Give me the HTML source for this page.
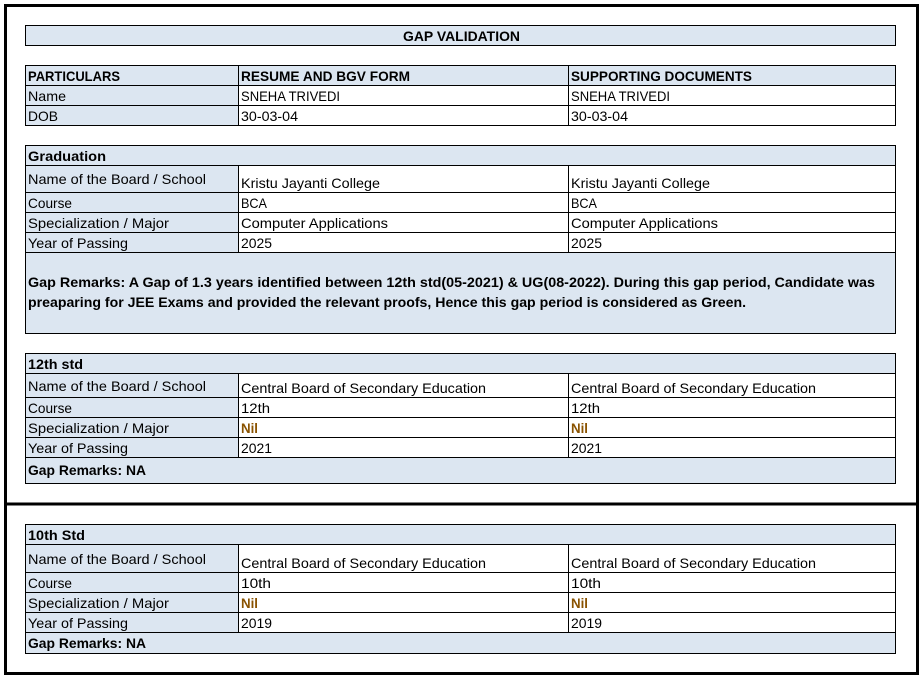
<!DOCTYPE html>
<html>
<head>
<meta charset="utf-8">
<style>
html,body{margin:0;padding:0;background:#fff;}
svg{display:block;}
text{font-family:"Liberation Sans",Arial,sans-serif;font-size:14px;fill:#000;}
.b{font-weight:bold;}
.nil{fill:#8a5300;font-weight:bold;}
</style>
</head>
<body>
<svg width="922" height="677" viewBox="0 0 922 677" xmlns="http://www.w3.org/2000/svg">
<!-- outer boxes -->
<rect x="5.5" y="5.5" width="912" height="668" fill="#fff" stroke="#000" stroke-width="3"/>
<line x1="4" y1="504" x2="919" y2="504" stroke="#000" stroke-width="3"/>

<g stroke="#000" stroke-width="1" shape-rendering="crispEdges">
<!-- Title -->
<rect x="25.5" y="25.5" width="870" height="20" fill="#dce6f1"/>

<!-- Table 1 -->
<rect x="25.5" y="65.5" width="870" height="20" fill="#dce6f1"/>
<rect x="25.5" y="85.5" width="213" height="40" fill="#dce6f1"/>
<rect x="238.5" y="85.5" width="657" height="40" fill="#fff"/>
<line x1="25" y1="105.5" x2="896" y2="105.5"/>
<line x1="238.5" y1="65" x2="238.5" y2="126"/>
<line x1="568.5" y1="65" x2="568.5" y2="126"/>

<!-- Graduation -->
<rect x="25.5" y="145.5" width="870" height="20" fill="#dce6f1"/>
<rect x="25.5" y="165.5" width="213" height="87" fill="#dce6f1"/>
<rect x="238.5" y="165.5" width="657" height="87" fill="#fff"/>
<line x1="25" y1="192.5" x2="896" y2="192.5"/>
<line x1="25" y1="212.5" x2="896" y2="212.5"/>
<line x1="25" y1="232.5" x2="896" y2="232.5"/>
<line x1="568.5" y1="165" x2="568.5" y2="253"/>
<rect x="25.5" y="252.5" width="870" height="81" fill="#dce6f1"/>

<!-- 12th -->
<rect x="25.5" y="353.5" width="870" height="20" fill="#dce6f1"/>
<rect x="25.5" y="373.5" width="213" height="84" fill="#dce6f1"/>
<rect x="238.5" y="373.5" width="657" height="84" fill="#fff"/>
<line x1="25" y1="397.5" x2="896" y2="397.5"/>
<line x1="25" y1="417.5" x2="896" y2="417.5"/>
<line x1="25" y1="437.5" x2="896" y2="437.5"/>
<line x1="568.5" y1="373" x2="568.5" y2="458"/>
<rect x="25.5" y="457.5" width="870" height="26" fill="#dce6f1"/>

<!-- 10th -->
<rect x="25.5" y="524.5" width="870" height="20" fill="#dce6f1"/>
<rect x="25.5" y="544.5" width="213" height="88" fill="#dce6f1"/>
<rect x="238.5" y="544.5" width="657" height="88" fill="#fff"/>
<line x1="25" y1="572.5" x2="896" y2="572.5"/>
<line x1="25" y1="592.5" x2="896" y2="592.5"/>
<line x1="25" y1="612.5" x2="896" y2="612.5"/>
<line x1="568.5" y1="544" x2="568.5" y2="633"/>
<rect x="25.5" y="632.5" width="870" height="21" fill="#dce6f1"/>
</g>

<!-- Title text -->
<text class="b" x="403" y="41" textLength="117" lengthAdjust="spacingAndGlyphs">GAP VALIDATION</text>

<!-- Table 1 text -->
<text class="b" x="28" y="81" textLength="92" lengthAdjust="spacingAndGlyphs">PARTICULARS</text>
<text class="b" x="241" y="81" textLength="169" lengthAdjust="spacingAndGlyphs">RESUME AND BGV FORM</text>
<text class="b" x="571" y="81" textLength="181" lengthAdjust="spacingAndGlyphs">SUPPORTING DOCUMENTS</text>
<text x="28" y="101" textLength="38" lengthAdjust="spacingAndGlyphs">Name</text>
<text x="241" y="101" textLength="99" lengthAdjust="spacingAndGlyphs">SNEHA TRIVEDI</text>
<text x="571" y="101" textLength="99" lengthAdjust="spacingAndGlyphs">SNEHA TRIVEDI</text>
<text x="28" y="121" textLength="30" lengthAdjust="spacingAndGlyphs">DOB</text>
<text x="241" y="121" textLength="57" lengthAdjust="spacingAndGlyphs">30-03-04</text>
<text x="571" y="121" textLength="57" lengthAdjust="spacingAndGlyphs">30-03-04</text>

<!-- Graduation text -->
<text class="b" x="28" y="161" textLength="78" lengthAdjust="spacingAndGlyphs">Graduation</text>
<text x="28" y="184" textLength="178" lengthAdjust="spacingAndGlyphs">Name of the Board / School</text>
<text x="241" y="188" textLength="139" lengthAdjust="spacingAndGlyphs">Kristu Jayanti College</text>
<text x="571" y="188" textLength="139" lengthAdjust="spacingAndGlyphs">Kristu Jayanti College</text>
<text x="28" y="208" textLength="44" lengthAdjust="spacingAndGlyphs">Course</text>
<text x="241" y="208" textLength="26" lengthAdjust="spacingAndGlyphs">BCA</text>
<text x="571" y="208" textLength="26" lengthAdjust="spacingAndGlyphs">BCA</text>
<text x="28" y="228" textLength="141" lengthAdjust="spacingAndGlyphs">Specialization / Major</text>
<text x="241" y="228" textLength="147" lengthAdjust="spacingAndGlyphs">Computer Applications</text>
<text x="571" y="228" textLength="147" lengthAdjust="spacingAndGlyphs">Computer Applications</text>
<text x="28" y="248" textLength="100" lengthAdjust="spacingAndGlyphs">Year of Passing</text>
<text x="241" y="248" textLength="31" lengthAdjust="spacingAndGlyphs">2025</text>
<text x="571" y="248" textLength="31" lengthAdjust="spacingAndGlyphs">2025</text>
<text class="b" x="28" y="287" textLength="847" lengthAdjust="spacingAndGlyphs">Gap Remarks: A Gap of 1.3 years identified between 12th std(05-2021) &amp; UG(08-2022). During this gap period, Candidate was</text>
<text class="b" x="28" y="307" textLength="718" lengthAdjust="spacingAndGlyphs">preaparing for JEE Exams and provided the relevant proofs, Hence this gap period is considered as Green.</text>

<!-- 12th text -->
<text class="b" x="28" y="369" textLength="55" lengthAdjust="spacingAndGlyphs">12th std</text>
<text x="28" y="391" textLength="178" lengthAdjust="spacingAndGlyphs">Name of the Board / School</text>
<text x="241" y="393" textLength="245" lengthAdjust="spacingAndGlyphs">Central Board of Secondary Education</text>
<text x="571" y="393" textLength="245" lengthAdjust="spacingAndGlyphs">Central Board of Secondary Education</text>
<text x="28" y="413" textLength="44" lengthAdjust="spacingAndGlyphs">Course</text>
<text x="241" y="413" textLength="29" lengthAdjust="spacingAndGlyphs">12th</text>
<text x="571" y="413" textLength="29" lengthAdjust="spacingAndGlyphs">12th</text>
<text x="28" y="433" textLength="141" lengthAdjust="spacingAndGlyphs">Specialization / Major</text>
<text class="nil" x="241" y="433" textLength="17" lengthAdjust="spacingAndGlyphs">Nil</text>
<text class="nil" x="571" y="433" textLength="17" lengthAdjust="spacingAndGlyphs">Nil</text>
<text x="28" y="453" textLength="100" lengthAdjust="spacingAndGlyphs">Year of Passing</text>
<text x="241" y="453" textLength="31" lengthAdjust="spacingAndGlyphs">2021</text>
<text x="571" y="453" textLength="31" lengthAdjust="spacingAndGlyphs">2021</text>
<text class="b" x="28" y="475" textLength="118" lengthAdjust="spacingAndGlyphs">Gap Remarks: NA</text>

<!-- 10th text -->
<text class="b" x="28" y="540" textLength="57" lengthAdjust="spacingAndGlyphs">10th Std</text>
<text x="28" y="564" textLength="178" lengthAdjust="spacingAndGlyphs">Name of the Board / School</text>
<text x="241" y="568" textLength="245" lengthAdjust="spacingAndGlyphs">Central Board of Secondary Education</text>
<text x="571" y="568" textLength="245" lengthAdjust="spacingAndGlyphs">Central Board of Secondary Education</text>
<text x="28" y="588" textLength="44" lengthAdjust="spacingAndGlyphs">Course</text>
<text x="241" y="588" textLength="30" lengthAdjust="spacingAndGlyphs">10th</text>
<text x="571" y="588" textLength="30" lengthAdjust="spacingAndGlyphs">10th</text>
<text x="28" y="608" textLength="141" lengthAdjust="spacingAndGlyphs">Specialization / Major</text>
<text class="nil" x="241" y="608" textLength="17" lengthAdjust="spacingAndGlyphs">Nil</text>
<text class="nil" x="571" y="608" textLength="17" lengthAdjust="spacingAndGlyphs">Nil</text>
<text x="28" y="628" textLength="100" lengthAdjust="spacingAndGlyphs">Year of Passing</text>
<text x="241" y="628" textLength="31" lengthAdjust="spacingAndGlyphs">2019</text>
<text x="571" y="628" textLength="31" lengthAdjust="spacingAndGlyphs">2019</text>
<text class="b" x="28" y="648" textLength="118" lengthAdjust="spacingAndGlyphs">Gap Remarks: NA</text>
</svg>
</body>
</html>
